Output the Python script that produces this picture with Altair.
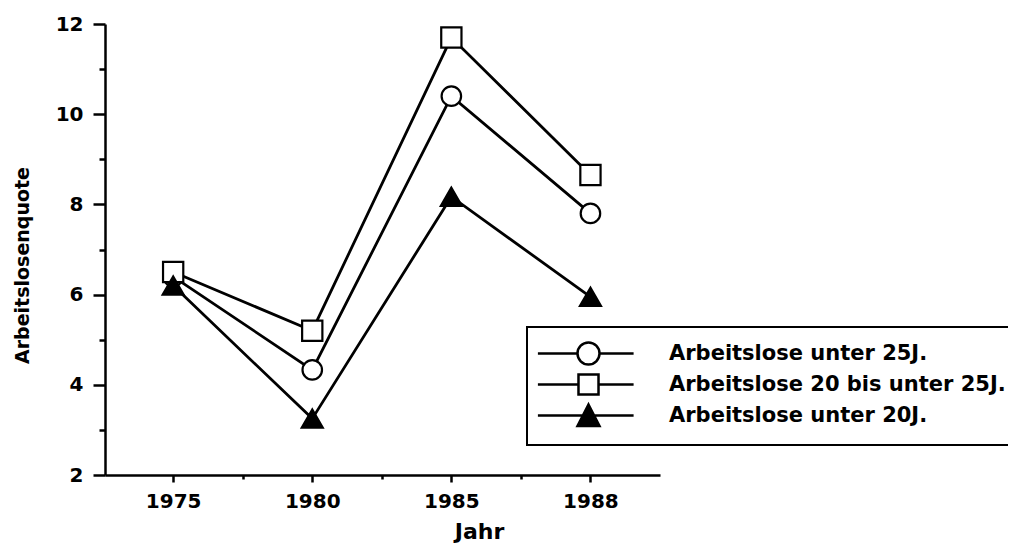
import altair as alt
import pandas as pd

# ---- data ----
jahre = ["1975", "1980", "1985", "1988"]
reihen = [
    "Arbeitslose unter 25J.",
    "Arbeitslose 20 bis unter 25J.",
    "Arbeitslose unter 20J.",
]
unter_25 = [6.4, 4.33, 10.4, 7.8]
zwanzig_bis_25 = [6.5, 5.2, 11.7, 8.65]
unter_20 = [6.2, 3.25, 8.17, 5.95]
y_ticks = [2, 3, 4, 5, 6, 7, 8, 9, 10, 11, 12]
x_ticks = [0, 0.5, 1, 1.5, 2, 2.5, 3]

rows = []
for name, vals in zip(reihen, [unter_25, zwanzig_bis_25, unter_20]):
    for i, (j, v) in enumerate(zip(jahre, vals)):
        rows.append({"Reihe": name, "Jahr": j, "pos": i, "Quote": v})
df = pd.DataFrame(rows)

FONT = "DejaVu Sans"
label_expr = "datum.value % 1 === 0 ? " + str(jahre) + "[datum.value] : ''"

x_enc = alt.X(
    "pos:Q",
    scale=alt.Scale(domain=[-0.49, 3.5], nice=False, zero=False),
    axis=alt.Axis(
        values=x_ticks,
        labelExpr=label_expr,
        title="Jahr",
        grid=False,
        tickSize={"condition": {"test": "datum.value % 1 === 0", "value": 7}, "value": 4},
        labelPadding=9,
        labelFont=FONT, labelFontSize=20, labelFontWeight="bold", labelColor="black",
        titleFont=FONT, titleFontSize=22, titleFontWeight="bold", titleColor="black",
        titleX=374, titleY=56, titleBaseline="middle", titleAlign="center",
        labelOverlap=False,
    ),
)
y_enc = alt.Y(
    "Quote:Q",
    scale=alt.Scale(domain=[2, 12], nice=False, zero=False),
    axis=alt.Axis(
        values=y_ticks,
        labelExpr="datum.value % 2 === 0 ? datum.label : ''",
        title="Arbeitslosenquote",
        grid=False,
        tickSize={"condition": {"test": "datum.value % 2 === 0", "value": 12}, "value": 6},
        labelPadding=10,
        labelFont=FONT, labelFontSize=20, labelFontWeight="bold", labelColor="black",
        titleFont=FONT, titleFontSize=19, titleFontWeight="bold", titleColor="black",
        titleX=-83, titleY=241, titleBaseline="middle", titleAlign="center",
        labelOverlap=False,
    ),
)

lines = alt.Chart(df).mark_line(color="black", strokeWidth=2.8).encode(
    x=x_enc, y=y_enc, detail="Reihe:N", order="pos:Q"
)

points = alt.Chart(df).mark_point(filled=True, stroke="black", strokeWidth=2.2, opacity=1).encode(
    x=x_enc,
    y=y_enc,
    shape=alt.Shape("Reihe:N", scale=alt.Scale(domain=reihen, range=["circle", "square", "triangle-up"]), legend=None),
    fill=alt.Fill("Reihe:N", scale=alt.Scale(domain=reihen, range=["white", "white", "black"]), legend=None),
    size=alt.Size("Reihe:N", scale=alt.Scale(domain=reihen, range=[380, 440, 450]), legend=None),
)

# legend symbols: line with a marker in the middle (custom SVG paths, stroke only;
# the solid triangle is filled by dense horizontal strokes)
tri_fill = ""
yy = -0.85
while yy < 0.95:
    hw = (yy + 1) / 1.95 * 1.0
    tri_fill += " M%.3f,%.3fH%.3f" % (-hw, yy, hw)
    yy += 0.12
legend_paths = [
    "M-4.6,0H-1 M1,0H4.1 M-1,0A1,1 0 1,0 1,0A1,1 0 1,0 -1,0Z",
    "M-4.6,0H-0.91 M0.91,0H4.1 M-0.91,-0.91H0.91V0.91H-0.91Z",
    "M-4.6,0H4.1 M0,-1L1,0.95H-1Z" + tri_fill,
]
legend_def = alt.Legend(
    title=None,
    orient="none",
    legendX=422,
    legendY=303,
    strokeColor="black",
    fillColor="white",
    padding=14,
    symbolSize=484,
    symbolStrokeWidth=2.5,
    symbolStrokeColor="black",
    symbolFillColor="transparent",
    symbolOffset=35,
    labelOffset=68,
    rowPadding=-1,
    labelFont=FONT,
    labelFontSize=21,
    labelFontWeight="bold",
    labelColor="black",
    labelLimit=500,
    symbolOpacity=1,
)
legend_layer = alt.Chart(df).transform_filter("false").mark_point(
    filled=False, color="black", stroke="black", strokeWidth=2.5, opacity=1
).encode(
    shape=alt.Shape("Reihe:N", scale=alt.Scale(domain=reihen, range=legend_paths), legend=legend_def),
)

chart = (
    alt.layer(lines, points, legend_layer)
    .resolve_scale(shape="independent", fill="independent")
    .properties(
        width=555,
        height=451,
        autosize=alt.AutoSizeParams(type="none"),
        padding={"left": 97, "top": 16, "right": 348, "bottom": 74},
        background="white",
    )
    .configure_view(stroke=None)
    .configure_axis(domainColor="black", domainWidth=2.5, tickColor="black", tickWidth=2.5)
    .configure_legend(strokeWidth=2)
)

chart.save("out.html", embed_options={"renderer": "svg", "actions": False})
